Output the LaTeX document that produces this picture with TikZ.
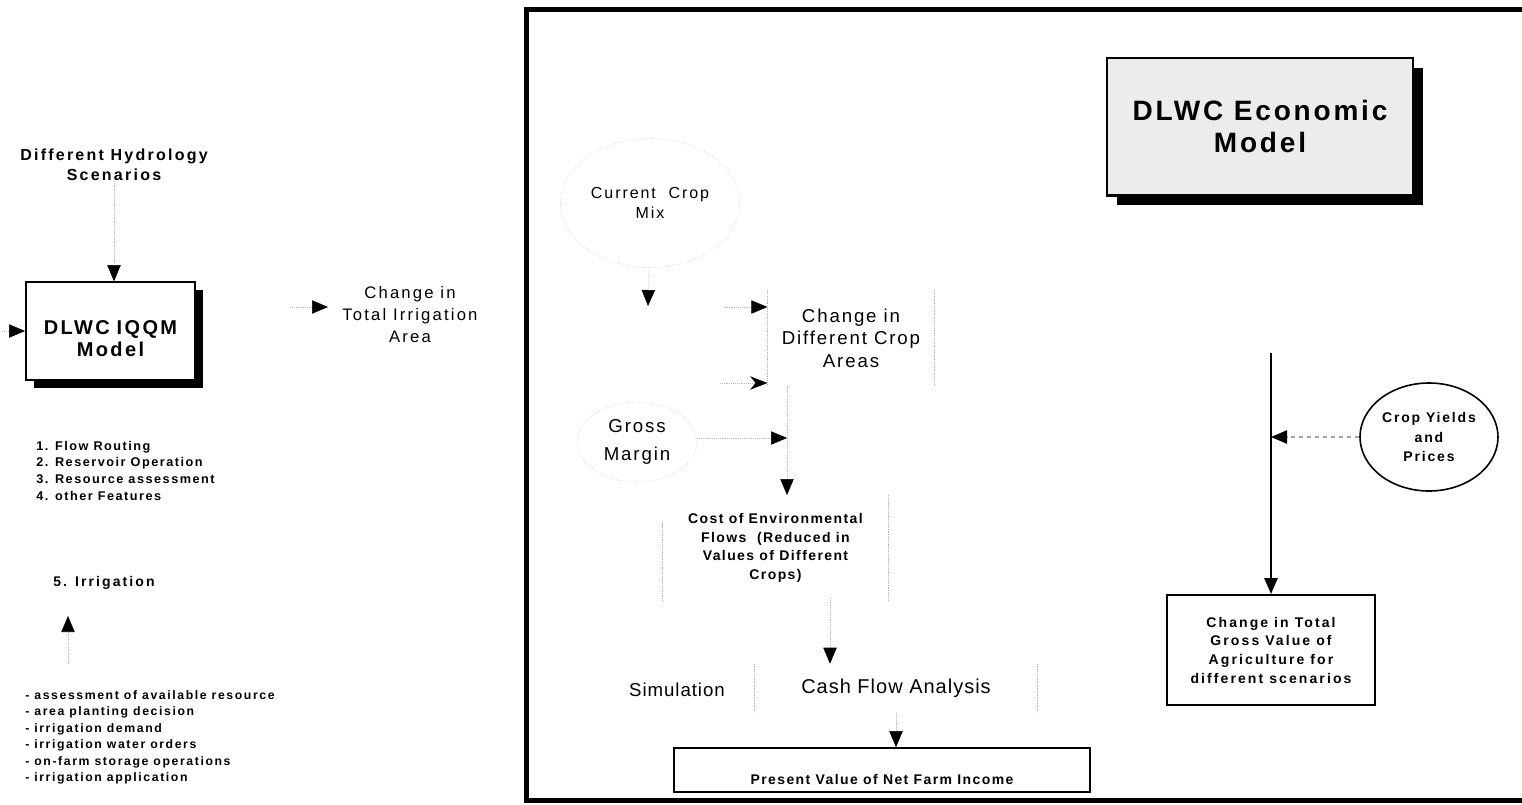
\documentclass[tikz,border=0pt]{standalone}
\usepackage{fontspec}
\setmainfont{Liberation Sans}
\usetikzlibrary{arrows.meta,shapes.geometric,shadows}

\newcommand\fnt[3]{\fontsize{#1}{#2}\selectfont\addfontfeature{LetterSpace=#3}}

\begin{document}
\begin{tikzpicture}[x=0.75pt,y=-0.75pt,
  txt/.style={align=center, inner sep=0pt},
  flow/.style={draw=gray!55, densely dotted, thin, -{Triangle[color=black,length=12pt,width=10pt]}},
  faint/.style={draw=gray!45, densely dotted},
  side/.style={draw=gray!60, densely dotted},
  modelbox/.style={draw, line width=1.2pt, fill=white, align=center,
    drop shadow={shadow xshift=6pt, shadow yshift=-6pt, fill=black, opacity=1}},
  plainbox/.style={draw, line width=1.2pt, fill=white, align=center, inner sep=0pt}]

  \useasboundingbox (0,0) rectangle (1522,804);

  %% outer frame of the economic model (runs off to the right)
  \begin{scope}
    \clip (0,0) rectangle (1522,804);
    \draw[line width=3.75pt] (526,9) rectangle (1560,800);
  \end{scope}

  %% hydrology model side
  \node[txt, font={\bfseries\fnt{12}{15}{14}}] (hydro) at (114,165) {Different Hydrology\\Scenarios};
  \node[modelbox, minimum width=127pt, text height=27pt, text depth=22pt, inner ysep=12.25pt,
        text width=115pt, font={\bfseries\fnt{15}{16.5}{12}}] (iqqm) at (110.5,331) {DLWC IQQM\\Model};
  \node[txt, font={\fnt{12.5}{16.5}{13}}] (irr) at (410,315) {Change in\\Total Irrigation\\Area};

  \node[txt, align=left, anchor=north west, font={\bfseries\fnt{9.5}{12.4}{12}}] (feat) at (36,441)
    {1. Flow Routing\\2. Reservoir Operation\\3. Resource assessment\\4. other Features};
  \node[txt, anchor=west, font={\bfseries\fnt{10.5}{12}{15}}] (irg) at (53,583) {5. Irrigation};
  \node[txt, align=left, anchor=north west, font={\bfseries\fnt{9.2}{12.4}{13}}] (tasks) at (25,690)
    {- assessment of available resource\\- area planting decision\\- irrigation demand\\%
     - irrigation water orders\\- on-farm storage operations\\- irrigation application};

  \coordinate (inL) at (2,331);
  \coordinate (irrin) at (290,307);
  \coordinate (upbase) at (68,664);
  \coordinate (uptip) at (68,616);

  \draw[flow] (hydro.south) -- (hydro.south |- iqqm.north);
  \draw[flow] (inL) -- (inL -| iqqm.west);
  \draw[flow] (irrin) -- (328,307);
  \draw[flow] (upbase) -- (uptip);

  %% economic model side
  \node[draw, line width=2pt, fill=gray!15, align=center, minimum width=229.5pt, minimum height=103pt,
        font={\bfseries\fnt{21}{24}{10}},
        drop shadow={shadow xshift=7.5pt, shadow yshift=-7.5pt, fill=black, opacity=1}] (econ) at (1260,126.5)
    {DLWC Economic\\Model};

  \node[ellipse, faint, align=center, minimum width=131pt, minimum height=97pt,
        font={\fnt{12}{15}{12}}] (mix) at (650,203) {Current\ \ Crop\\Mix};
  \node[ellipse, faint, align=center, minimum width=90pt, minimum height=60pt,
        font={\fnt{14}{21}{10}}] (gross) at (637,442) {Gross\\Margin};

  \node[txt, minimum width=125pt, minimum height=71pt, font={\fnt{14}{17}{10}}] (chg) at (851,338)
    {Change in\\Different Crop\\Areas};
  \node[txt, minimum width=169pt, minimum height=79pt, font={\bfseries\fnt{10.5}{14}{10}}] (cost) at (775.5,548)
    {Cost of Environmental\\Flows\ \ (Reduced in\\Values of Different\\Crops)};
  \node[txt, font={\fnt{14}{16}{5}}] (sim) at (677,690) {Simulation};
  \node[txt, minimum width=211.5pt, minimum height=36pt, font={\fnt{15}{17}{5}}] (cash) at (896,688)
    {Cash Flow Analysis};
  \node[plainbox, minimum width=312pt, text height=24pt, text depth=3pt, inner ysep=3pt,
        font={\bfseries\fnt{10.5}{12}{10}}] (pv) at (882,770) {Present Value of Net Farm Income};

  \node[ellipse, draw, line width=1.2pt, align=center, minimum width=103.5pt, minimum height=81pt,
        inner sep=0pt, font={\bfseries\fnt{10.5}{14.5}{13}}] (yields) at (1429,437) {Crop Yields\\and\\Prices};
  \node[plainbox, line width=1.5pt, minimum width=156pt, minimum height=82.5pt,
        font={\bfseries\fnt{10.5}{14}{15}}] (gv) at (1271,650)
    {Change in Total\\Gross Value of\\Agriculture for\\different scenarios};

  %% dotted sides of the open boxes
  \draw[side] (chg.north west) -- (chg.south west);
  \draw[side] (chg.north east) -- (chg.south east);
  \draw[side] ([yshift=-20pt]cost.north west) -- (cost.south west);
  \draw[side] (cost.north east) -- (cost.south east);
  \draw[side] (cash.north west) -- (cash.south west);
  \draw[side] (cash.north east) -- (cash.south east);

  \coordinate (mixend) at (648,306);
  \coordinate (c1) at (725,307);
  \coordinate (c2) at (720,383);
  \coordinate (split) at (787,438);
  \coordinate (costout) at (830,598);
  \coordinate (gvtop) at (1271,353);

  \draw[flow] (mix) -- (mixend);
  \draw[flow] (c1) -- (c1 -| chg.west);
  \draw[draw=gray!55, densely dotted, thin, -{Stealth[color=black,length=13pt,width=10pt]}] (c2) -- (c2 -| chg.west);
  \draw[flow] (split |- chg.south) -- (split |- cost.north);
  \draw[flow] (gross.east |- split) -- (split);
  \draw[flow] (costout) -- (costout |- cash.north);
  \draw[flow] (cash.south) -- (cash.south |- pv.north);

  \draw[line width=1.5pt, -{Triangle[length=12pt,width=10pt]}] (gvtop) -- (gvtop |- gv.north);
  \draw[gray!70, dashed, thick, -{Triangle[color=black,length=12pt,width=10pt]}] (yields.west) -- (yields.west -| gvtop);

\end{tikzpicture}
\end{document}
